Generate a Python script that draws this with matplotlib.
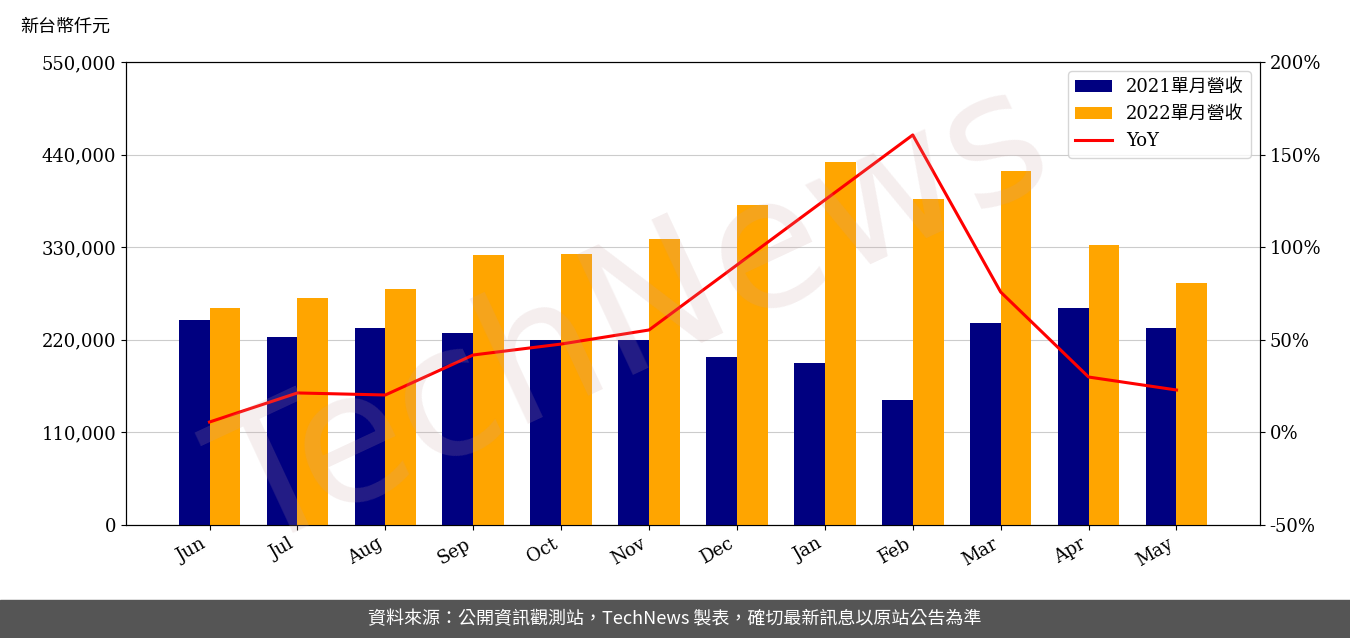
import matplotlib
matplotlib.use("Agg")
import matplotlib.pyplot as plt
import numpy as np

months = ["Jun","Jul","Aug","Sep","Oct","Nov","Dec","Jan","Feb","Mar","Apr","May"]
rev2021 = [243500,223000,234000,228000,220000,220000,200000,192000,148000,240000,258000,234000]
rev2022 = [258000,270000,280000,321000,322000,340000,380000,431000,387000,420000,333000,287000]
yoy = [5.6,21.3,20.2,41.8,47.7,55.3,90.4,125.5,160.6,75.8,29.9,22.9]

plt.rcParams['font.family'] = ['DejaVu Serif','Noto Sans CJK TC']
fig = plt.figure(figsize=(13.5,6.38), dpi=100)
ax = fig.add_axes([126/1350, 1-525/638, (1260-126)/1350, 463/638])
x = np.arange(len(months))
w = 0.35
b1 = ax.bar(x-w/2, rev2021, w, color='#000080', label='2021單月營收', zorder=3)
b2 = ax.bar(x+w/2, rev2022, w, color='#FFA500', label='2022單月營收', zorder=3)
ax.set_ylim(0,550000)
ax.set_yticks(np.arange(0,550001,110000))
ax.set_yticklabels([f"{v:,}" for v in range(0,550001,110000)], fontsize=13)
ax.set_xticks(x)
ax.set_xticklabels(months, rotation=30, ha='right', fontsize=13)
ax.set_xlim(-0.95, 11.95)
ax.grid(axis='y', color='#cccccc', zorder=0)
ax2 = ax.twinx()
l, = ax2.plot(x, yoy, color='red', lw=2.2, label='YoY', zorder=4)
ax2.set_ylim(-50,200)
ax2.set_yticks(np.arange(-50,201,50))
ax2.set_yticklabels([f"{v}%" for v in range(-50,201,50)], fontsize=13)
ax.legend([b1,b2,l], ['2021單月營收','2022單月營收','YoY'], loc='upper right', fontsize=13)
fig.text(20/1350, 1-27/638, '新台幣仟元', fontsize=13, va='center', family=['Noto Sans CJK TC'])
fig.text(0.47, 0.5, 'TechNews', fontsize=130, color='#c8a0a0', alpha=0.18, rotation=25, ha='center', va='center', family=['DejaVu Sans'], zorder=10)
fig.patches.append(plt.Rectangle((0,0),1,38/638, transform=fig.transFigure, color='#555555', zorder=0))
fig.text(0.5, 19/638, '資料來源：公開資訊觀測站，TechNews 製表，確切最新訊息以原站公告為準', color='white', fontsize=13, ha='center', va='center', family=['Noto Sans CJK TC'])
fig.savefig('out.png')
